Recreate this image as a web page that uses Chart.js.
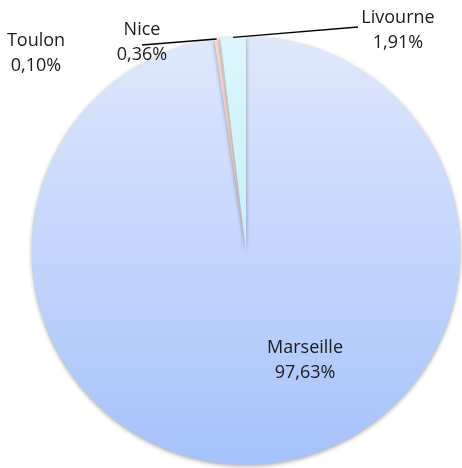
<!DOCTYPE html>
<html><head><meta charset="utf-8">
<script src="https://cdn.jsdelivr.net/npm/chart.js@4/dist/chart.umd.min.js"></script>
<style>html,body{margin:0;padding:0;background:#fff}#wrap{width:462px;height:468px}</style>
</head><body><div id="wrap"><canvas id="c" width="462" height="468"></canvas></div>
<script>
const categories = ["Marseille", "Nice", "Toulon", "Livourne"];
const values = [97.63, 0.36, 0.10, 1.91];
const valueLabels = ["97,63%", "0,36%", "0,10%", "1,91%"];
const gradTop = ["#dfe8fc", "#fcdcdc", "#eef3d2", "#dcf6fd"];
const gradBottom = ["#a6c2fb", "#f8c4c4", "#dbe8a8", "#aee9f9"];

function makeGrad(ctx, area, i){
  const g = ctx.createLinearGradient(0, area.top, 0, area.bottom);
  g.addColorStop(0, gradTop[i]);
  g.addColorStop(1, gradBottom[i]);
  return g;
}

const labelPlugin = {
  id: 'labels',
  afterDatasetsDraw(chart){
    const ctx = chart.ctx;
    const meta = chart.getDatasetMeta(0);
    const arc0 = meta.data[0];
    const cx = arc0.x, cy = arc0.y, R = arc0.outerRadius;
    ctx.save();
    ctx.font = '18px "Open Sans", "Liberation Sans", sans-serif';
    ctx.fillStyle = '#1a1a1a';
    ctx.textAlign = 'center';
    ctx.textBaseline = 'middle';
    // label anchors relative to pie centre
    const pos = [
      [cx + 59, cy + 97],
      [cx - 104, cy - 221],
      [cx - 210, cy - 210],
      [cx + 152, cy - 233]
    ];
    for (let i = 0; i < categories.length; i++){
      const [x, y] = pos[i];
      ctx.fillText(categories[i], x, y);
      ctx.fillText(valueLabels[i], x, y + 25);
    }
    // leader lines
    ctx.strokeStyle = '#000';
    ctx.lineWidth = 1.3;
    const edge = (i) => {
      const a = meta.data[i];
      const m = (a.startAngle + a.endAngle) / 2;
      return [cx + Math.cos(m) * R, cy + Math.sin(m) * R];
    };
    // Nice
    let e = edge(1);
    ctx.beginPath(); ctx.moveTo(cx - 104, cy - 206); ctx.lineTo(e[0], e[1]); ctx.stroke();
    // Livourne
    e = edge(3);
    ctx.beginPath(); ctx.moveTo(e[0], e[1]); ctx.lineTo(cx + 112, cy - 224); ctx.stroke();
    ctx.restore();
  }
};

const shadowPlugin = {
  id: 'shadow',
  beforeDatasetsDraw(chart){
    const ctx = chart.ctx;
    ctx.save();
    ctx.shadowColor = 'rgba(0,0,0,0.35)';
    ctx.shadowBlur = 4;
    ctx.shadowOffsetX = 0;
    ctx.shadowOffsetY = 1;
  },
  afterDatasetsDraw(chart){
    chart.ctx.restore();
  }
};

new Chart(document.getElementById('c'), {
  type: 'pie',
  data: {
    labels: categories,
    datasets: [{
      data: values,
      backgroundColor: (c) => {
        const area = c.chart.chartArea;
        if (!area) return gradTop[c.dataIndex];
        return makeGrad(c.chart.ctx, area, c.dataIndex);
      },
      borderWidth: 0
    }]
  },
  options: {
    responsive: false,
    animation: false,
    layout: { padding: { left: 32, right: 2, top: 37, bottom: 3 } },
    plugins: { legend: { display: false }, tooltip: { enabled: false } }
  },
  plugins: [shadowPlugin, labelPlugin]
});
</script>
</body></html>
